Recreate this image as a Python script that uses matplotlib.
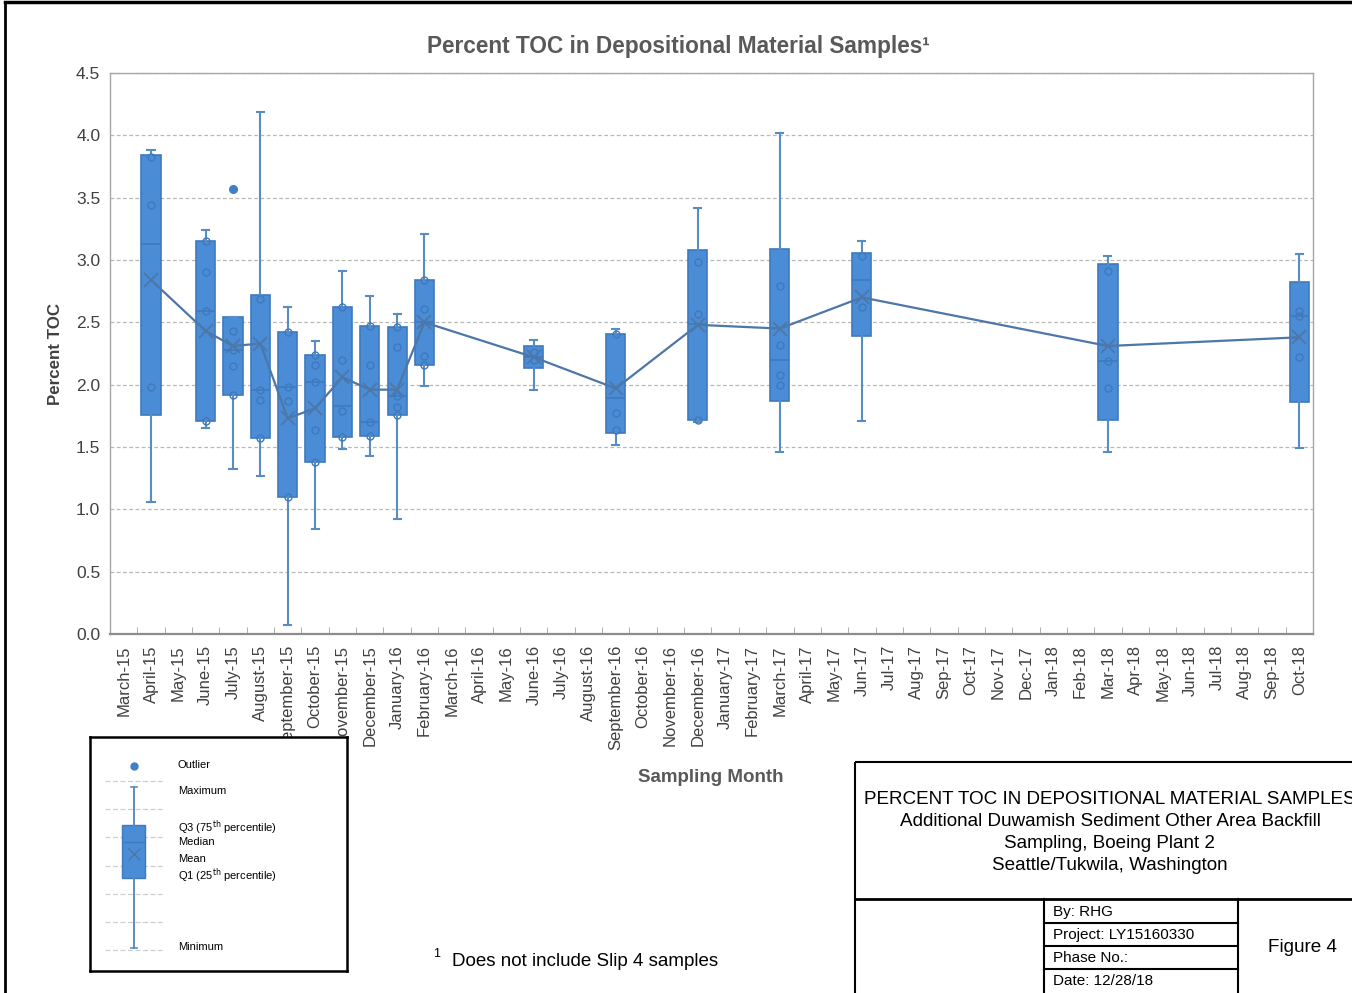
import matplotlib
matplotlib.use("Agg")
import matplotlib.pyplot as plt
from matplotlib.patches import Rectangle

plt.rcParams['font.family'] = ['Liberation Sans', 'DejaVu Sans']

# ---- data -------------------------------------------------------------
months = ["March-15", "April-15", "May-15", "June-15", "July-15", "August-15",
          "September-15", "October-15", "November-15", "December-15",
          "January-16", "February-16", "March-16", "April-16", "May-16",
          "June-16", "July-16", "August-16", "September-16", "October-16",
          "November-16", "December-16", "January-17", "February-17",
          "March-17", "April-17", "May-17", "Jun-17", "Jul-17", "Aug-17",
          "Sep-17", "Oct-17", "Nov-17", "Dec-17", "Jan-18", "Feb-18",
          "Mar-18", "Apr-18", "May-18", "Jun-18", "Jul-18", "Aug-18",
          "Sep-18", "Oct-18"]

sampled = ["April-15", "June-15", "July-15", "August-15", "September-15",
           "October-15", "November-15", "December-15", "January-16",
           "February-16", "June-16", "September-16", "December-16",
           "March-17", "Jun-17", "Mar-18", "Oct-18"]

toc_min = [1.06, 1.65, 1.32, 1.27, 0.07, 0.84, 1.48, 1.43, 0.92, 1.99,
           1.96, 1.52, 1.70, 1.46, 1.71, 1.46, 1.49]
toc_q1 = [1.76, 1.71, 1.92, 1.57, 1.10, 1.38, 1.58, 1.59, 1.76, 2.16,
          2.13, 1.61, 1.72, 1.87, 2.39, 1.72, 1.86]
toc_median = [3.13, 2.59, 2.28, 1.96, 1.98, 2.02, 1.83, 1.70, 1.91, 2.50,
              2.22, 1.89, 2.49, 2.20, 2.84, 2.19, 2.55]
toc_q3 = [3.84, 3.15, 2.54, 2.72, 2.42, 2.24, 2.62, 2.47, 2.46, 2.84,
          2.31, 2.41, 3.08, 3.09, 3.06, 2.97, 2.82]
toc_max = [3.88, 3.24, 2.54, 4.19, 2.62, 2.35, 2.91, 2.71, 2.57, 3.21,
           2.36, 2.45, 3.42, 4.02, 3.15, 3.03, 3.05]
toc_mean = [2.84, 2.43, 2.31, 2.33, 1.73, 1.81, 2.06, 1.96, 1.96, 2.50,
            2.22, 1.97, 2.48, 2.45, 2.70, 2.31, 2.38]
toc_points = [[3.83, 3.44, 1.98],
              [3.15, 2.90, 2.59, 1.71],
              [2.43, 2.28, 2.15, 1.92],
              [2.69, 1.96, 1.88, 1.57],
              [2.42, 1.98, 1.87, 1.10],
              [2.24, 2.16, 2.02, 1.64, 1.38],
              [2.62, 2.20, 1.79, 1.58],
              [2.47, 2.16, 1.70, 1.59],
              [2.46, 2.30, 1.91, 1.82, 1.76],
              [2.84, 2.61, 2.23, 2.16],
              [2.26, 2.20],
              [2.41, 1.77, 1.64],
              [2.98, 2.57, 1.72],
              [2.79, 2.32, 2.08, 2.00],
              [3.03, 2.62],
              [2.91, 2.19, 1.97],
              [2.59, 2.55, 2.22]]
toc_outliers = [[], [], [3.57], [], [], [], [], [], [], [], [], [], [], [],
                [], [], []]

y_ticks = [0.0, 0.5, 1.0, 1.5, 2.0, 2.5, 3.0, 3.5, 4.0, 4.5]

# ---- styling ----------------------------------------------------------
BOX_FILL = "#4a8cd6"
BOX_EDGE = "#3f79bd"
WHISK = "#5a8cc4"
MEAN_C = "#4d77a8"
TXT = "#404040"
TITLE_C = "#595959"

W, H = 1352, 993
fig = plt.figure(figsize=(W / 100, H / 100), dpi=100)
fig.patch.set_facecolor("white")


def fig_rect(x0, y0, x1, y1):
    return [x0 / W, 1 - y1 / H, (x1 - x0) / W, (y1 - y0) / H]


ax = fig.add_axes(fig_rect(110, 73, 1313, 634))

pos = [months.index(m) for m in sampled]
stats = []
for i in range(len(sampled)):
    stats.append(dict(whislo=toc_min[i], q1=toc_q1[i], med=toc_median[i],
                      q3=toc_q3[i], whishi=toc_max[i], mean=toc_mean[i],
                      fliers=toc_outliers[i]))

ax.bxp(stats, positions=pos, widths=0.7, capwidths=0.26, patch_artist=True,
       showmeans=False, showfliers=True,
       boxprops=dict(facecolor=BOX_FILL, edgecolor=BOX_EDGE, linewidth=1.2),
       medianprops=dict(color=BOX_EDGE, linewidth=1.2),
       whiskerprops=dict(color=WHISK, linewidth=1.5),
       capprops=dict(color=WHISK, linewidth=1.5),
       flierprops=dict(marker="o", markerfacecolor="#3f7fc8",
                       markeredgecolor="#3f7fc8", markersize=5.5),
       zorder=3)

# individual sample values inside each box
for p, pts in zip(pos, toc_points):
    ax.plot([p] * len(pts), pts, linestyle="none", marker="o",
            markersize=5, markerfacecolor="none", markeredgecolor=BOX_EDGE,
            markeredgewidth=1.0, zorder=4)

# monthly means, joined by a line
ax.plot(pos, toc_mean, color=MEAN_C, linewidth=1.6, zorder=5)
ax.plot(pos, toc_mean, linestyle="none", marker="x", markersize=10,
        markeredgewidth=1.3, color=MEAN_C, zorder=6)

ax.set_xlim(-0.5, len(months) - 0.5)
ax.set_ylim(0, 4.5)
ax.set_yticks(y_ticks)
ax.set_yticklabels([f"{v:.1f}" for v in y_ticks], fontsize=12.5, color=TXT)
ax.set_xticks(range(len(months)))
ax.set_xticklabels(months, rotation=90, fontsize=12, color=TXT)
ax.set_xticks([i + 0.5 for i in range(len(months) - 1)], minor=True)
ax.tick_params(axis="x", which="major", length=0, pad=8)
ax.tick_params(axis="x", which="minor", direction="in", length=5,
               color="#a0a0a0")
ax.tick_params(axis="y", length=0, pad=7)
ax.yaxis.grid(True, color="#b8b8b8", linestyle=(0, (3, 2)), linewidth=0.9)
ax.set_axisbelow(True)
for s in ["top", "left", "right"]:
    ax.spines[s].set_color("#a6a6a6")
    ax.spines[s].set_linewidth(1.0)
ax.spines["bottom"].set_color("#8c8c8c")
ax.spines["bottom"].set_linewidth(1.6)

ax.set_ylabel("Percent TOC", fontsize=12.2, fontweight="bold", color=TXT,
              labelpad=9.5)
fig.text(711 / W, 1 - 778 / H, "Sampling Month", fontsize=13.5,
         fontweight="bold", color=TITLE_C, ha="center", va="center")
fig.text(678 / W, 1 - 47 / H, "Percent TOC in Depositional Material Samples\u00b9",
         fontsize=16.3, fontweight="bold", color=TITLE_C, ha="center",
         va="center")

# ---- overlay for page furniture (pixel coordinates) -------------------
ov = fig.add_axes([0, 0, 1, 1], zorder=5)
ov.set_xlim(0, W)
ov.set_ylim(H, 0)
ov.axis("off")
ov.patch.set_alpha(0)

# page frame
ov.plot([5, W], [2, 2], color="black", lw=2.5)
ov.plot([5, 5], [2, H], color="black", lw=2)

# footnote
ov.text(433, 954, "1", fontsize=9, color="black", ha="left", va="center")
ov.text(452, 961, "Does not include Slip 4 samples", fontsize=13.5,
        color="black", ha="left", va="center")

# title block
tb_col = "black"
ov.add_patch(Rectangle((855, 762), W - 855 + 5, H - 762 + 5, fill=False,
                       edgecolor=tb_col, lw=1.5))
ov.plot([855, W], [899, 899], color=tb_col, lw=2)
ov.plot([1044, 1044], [899, H], color=tb_col, lw=1.5)
ov.plot([1238, 1238], [899, H], color=tb_col, lw=1.5)
for yy in [923, 946, 969]:
    ov.plot([1044, 1238], [yy, yy], color=tb_col, lw=1.5)
title_lines = ["PERCENT TOC IN DEPOSITIONAL MATERIAL SAMPLES",
               "Additional Duwamish Sediment Other Area Backfill",
               "Sampling, Boeing Plant 2",
               "Seattle/Tukwila, Washington"]
for k, line in enumerate(title_lines):
    ov.text(1110, 799 + 22 * k, line, fontsize=13.6, color="black",
            ha="center", va="center", clip_on=False)
cells = ["By: RHG", "Project: LY15160330", "Phase No.:", "Date: 12/28/18"]
for k, c in enumerate(cells):
    ov.text(1053, 912 + 23 * k, c, fontsize=11, color="black",
            ha="left", va="center")
ov.text(1302, 948, "Figure 4", fontsize=13.6, color="black", ha="center",
        va="center")

# ---- box-plot key ------------------------------------------------------
key = fig.add_axes(fig_rect(90, 737, 347, 971), zorder=10)
key.set_facecolor("white")

for yy in [781, 809, 837, 866, 894, 922, 950]:
    key.plot([105, 162], [yy, yy], color="#cfcfcf", lw=0.9,
             linestyle=(0, (4, 2)), zorder=1)
key_stats = [dict(whislo=948, q1=878, med=842, q3=825, whishi=787,
                  mean=854, fliers=[766])]
key.bxp(key_stats, positions=[133.5], widths=23, capwidths=6,
        patch_artist=True, showfliers=True,
        boxprops=dict(facecolor=BOX_FILL, edgecolor=BOX_EDGE, linewidth=1.0),
        medianprops=dict(color=BOX_EDGE, linewidth=1.0),
        whiskerprops=dict(color=WHISK, linewidth=1.4),
        capprops=dict(color=WHISK, linewidth=1.2),
        flierprops=dict(marker="o", markerfacecolor="#3f7fc8",
                        markeredgecolor="#3f7fc8", markersize=5),
        zorder=3)
key.plot([133.5], [854], marker="x", markersize=8, markeredgewidth=1.0,
         color=MEAN_C, zorder=4)
key.set_xlim(90, 347)
key.set_ylim(971, 737)
key.set_xticks([])
key.set_yticks([])
for s in key.spines.values():
    s.set_color("black")
    s.set_linewidth(1.8)
key_labels = [("Outlier", 765), ("Maximum", 791),
              ("Q3 (75$^{\\mathrm{th}}$ percentile)", 828), ("Median", 842),
              ("Mean", 859), ("Q1 (25$^{\\mathrm{th}}$ percentile)", 876),
              ("Minimum", 947)]
for lab, yy in key_labels:
    key.text(178, yy, lab, fontsize=8, color="black", ha="left",
             va="center")

fig.savefig("out.png", dpi=100, facecolor="white")
